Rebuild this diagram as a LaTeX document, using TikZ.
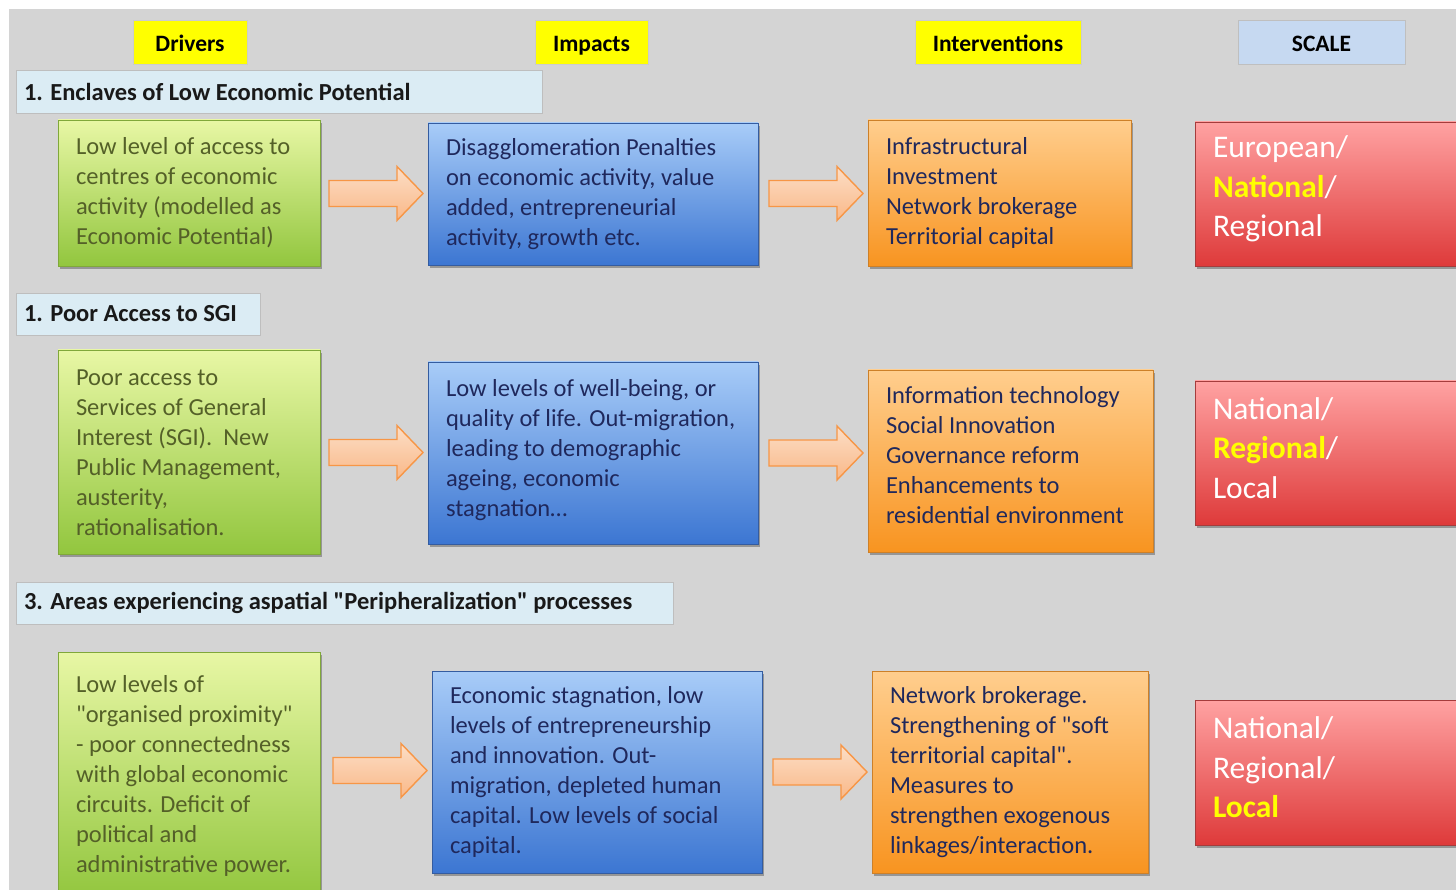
\documentclass[tikz,border=0pt]{standalone}
\usepackage{fontspec}
\setmainfont{Carlito}[Ligatures=TeXOff]
\usetikzlibrary{shadows,shadings,calc}
\definecolor{bg}{RGB}{212,212,212}
\definecolor{hdrblue}{RGB}{219,236,244}
\definecolor{scaleblue}{RGB}{198,217,241}
\definecolor{hdrline}{RGB}{190,190,190}
\definecolor{gtop}{RGB}{232,247,165}
\definecolor{gbot}{RGB}{146,198,62}
\definecolor{gline}{RGB}{128,168,58}
\definecolor{btop}{RGB}{168,204,248}
\definecolor{bbot}{RGB}{60,118,210}
\definecolor{bline}{RGB}{52,92,160}
\definecolor{otop}{RGB}{255,206,142}
\definecolor{obot}{RGB}{248,148,32}
\definecolor{oline}{RGB}{205,128,40}
\definecolor{rtop}{RGB}{255,162,162}
\definecolor{rbot}{RGB}{222,58,58}
\definecolor{rline}{RGB}{165,60,60}
\definecolor{gtext}{RGB}{84,96,40}
\definecolor{ntext}{RGB}{31,40,92}
\definecolor{atop}{RGB}{252,222,198}
\definecolor{abot}{RGB}{249,184,136}
\definecolor{aline}{RGB}{247,150,70}
\definecolor{hl}{RGB}{255,255,0}
\begin{document}
\begin{tikzpicture}[x=1pt,y=-1pt,
  every node/.style={inner sep=0pt, outer sep=0pt},
  shadowed/.style={drop shadow={shadow xshift=2pt,shadow yshift=-3pt,opacity=0.45,fill=black!70}},
  gbox/.style={rectangle, draw=gline, line width=0.8pt, top color=gtop, bottom color=gbot, shadowed},
  bbox/.style={rectangle, draw=bline, line width=0.8pt, top color=btop, bottom color=bbot, shadowed},
  obox/.style={rectangle, draw=oline, line width=0.8pt, top color=otop, bottom color=obot, shadowed},
  rbox/.style={rectangle, draw=rline, line width=0.8pt, top color=rtop, bottom color=rbot, shadowed},
  boxtext/.style={anchor=west, align=left, font=\fontsize{24.5}{30}\selectfont},
  gtxt/.style={boxtext, text=gtext},
  ntxt/.style={boxtext, text=ntext},
  rtxt/.style={anchor=west, align=left, text=white, font=\fontsize{31.5}{39.5}\selectfont},
  colhead/.style={rectangle, fill=hl, draw=black!20, line width=0.6pt, minimum height=44pt, text height=20pt, text depth=1pt, font=\bfseries\fontsize{23.5}{26}\selectfont},
  sechead/.style={rectangle, fill=hdrblue, draw=hdrline, line width=0.8pt, minimum height=43pt},
  sectext/.style={anchor=west, font=\bfseries\fontsize{24.5}{28}\selectfont, text=black!90},
  blockarrow/.pic={\draw[line width=1.4pt, draw=aline, top color=atop, bottom color=abot, line join=miter]
     (-47,-13) -- (21,-13) -- (21,-27) -- (47,0) -- (21,27) -- (21,13) -- (-47,13) -- cycle;}
]
\path[use as bounding box] (0,0) rectangle (1456,890);
\clip (0,0) rectangle (1456,890);
\fill[bg] (9,9) rectangle (1470,900);

% column headers
\node[colhead, minimum width=114pt] (hd) at (190,42) {Drivers};
\node[colhead, minimum width=113pt] (hi) at (591.5,42) {Impacts};
\node[colhead, minimum width=166pt] (hv) at (998,42) {Interventions};
\node[colhead, fill=scaleblue, draw=black!25, minimum width=167pt] (hs) at (1321.5,42) {SCALE};

% section headers
\node[sechead, minimum width=526pt] (s1) at (279,91.5) {};
\node[sectext] (s1t) at ([xshift=8pt,yshift=0pt]s1.west) {1. Enclaves of Low Economic Potential};
\node[sechead, minimum width=244pt, minimum height=42pt] (s2) at (138,314) {};
\node[sectext] (s2t) at ([xshift=8pt,yshift=0pt]s2.west) {1. Poor Access to SGI};
\node[sechead, minimum width=657pt, minimum height=42pt] (s3) at (344.5,603) {};
\node[sectext] (s3t) at ([xshift=8pt,yshift=0pt]s3.west) {3. Areas experiencing aspatial "Peripheralization" processes};

% row 1
\node[gbox, minimum width=262pt, minimum height=146pt] (g1) at (189,193) {};
\node[gtxt] (g1t) at ([xshift=18pt,yshift=0pt]g1.west) {Low level of access to\\centres of economic\\activity (modelled as\\Economic Potential)};
\node[bbox, minimum width=330pt, minimum height=142pt] (b1) at (593,194) {};
\node[ntxt] (b1t) at ([xshift=18pt,yshift=0pt]b1.west) {Disagglomeration Penalties\\on economic activity, value\\added, entrepreneurial\\activity, growth etc.};
\node[obox, minimum width=263pt, minimum height=146pt] (o1) at (999.5,193) {};
\node[ntxt] (o1t) at ([xshift=18pt,yshift=0pt]o1.west) {Infrastructural\\Investment\\Network brokerage\\Territorial capital};
\node[rbox, minimum width=275pt, minimum height=144pt] (r1) at (1332.5,194) {};
\node[rtxt] (r1t) at ([xshift=18pt,yshift=5pt]r1.west) {European/\\\textbf{\color{hl}National}/\\Regional};

% row 2
\node[gbox, minimum width=262pt, minimum height=204pt] (g2) at (189,452) {};
\node[gtxt] (g2t) at ([xshift=18pt,yshift=-1pt]g2.west) {Poor access to\\Services of General\\Interest (SGI).\ \ New\\Public Management,\\austerity,\\rationalisation.};
\node[bbox, minimum width=330pt, minimum height=182pt] (b2) at (593,453) {};
\node[ntxt] (b2t) at ([xshift=18pt,yshift=3pt]b2.west) {Low levels of well-being, or\\quality of life. Out-migration,\\leading to demographic\\ageing, economic\\stagnation\dots};
\node[obox, minimum width=285pt, minimum height=182pt] (o2) at (1010.5,461) {};
\node[ntxt] (o2t) at ([xshift=18pt,yshift=6pt]o2.west) {Information technology\\Social Innovation\\Governance reform\\Enhancements to\\residential environment};
\node[rbox, minimum width=275pt, minimum height=144pt] (r2) at (1332.5,453) {};
\node[rtxt] (r2t) at ([xshift=18pt,yshift=5pt]r2.west) {National/\\\textbf{\color{hl}Regional}/\\Local};

% row 3
\node[gbox, minimum width=262pt, minimum height=246pt] (g3) at (189,775) {};
\node[gtxt] (g3t) at ([xshift=18pt,yshift=-1pt]g3.west) {Low levels of\\"organised proximity"\\- poor connectedness\\with global economic\\circuits. Deficit of\\political and\\administrative power.};
\node[bbox, minimum width=330pt, minimum height=202pt] (b3) at (597,772) {};
\node[ntxt] (b3t) at ([xshift=18pt]b3.west) {Economic stagnation, low\\levels of entrepreneurship\\and innovation. Out-\\migration, depleted human\\capital. Low levels of social\\capital.};
\node[obox, minimum width=276pt, minimum height=202pt] (o3) at (1010,772) {};
\node[ntxt] (o3t) at ([xshift=18pt]o3.west) {Network brokerage.\\Strengthening of "soft\\territorial capital".\\Measures to\\strengthen exogenous\\linkages/interaction.};
\node[rbox, minimum width=275pt, minimum height=145pt] (r3) at (1332.5,772.5) {};
\node[rtxt] (r3t) at ([xshift=18pt,yshift=5pt]r3.west) {National/\\Regional/\\\textbf{\color{hl}Local}};

% block arrows
\pic at ($(g1.east)!0.5!(b1.west)+(2,0)$) {blockarrow};
\pic at ($(b1.east)!0.5!(o1.west)+(3,0)$) {blockarrow};
\pic at ($(g2.east)!0.5!(b2.west)+(2,0)$) {blockarrow};
\pic at ($(b2.east)!0.5!(o2.west)+(3,-4)$) {blockarrow};
\pic at ($(g3.east)!0.5!(b3.west)+(4,-3)$) {blockarrow};
\pic at ($(b3.east)!0.5!(o3.west)+(3,0)$) {blockarrow};
\end{tikzpicture}
\end{document}
